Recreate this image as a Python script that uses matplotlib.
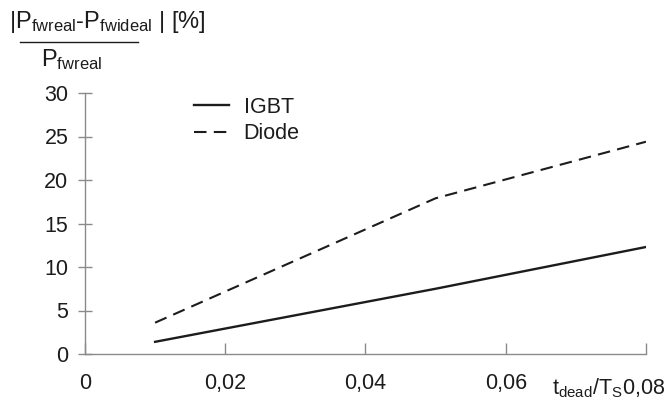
import matplotlib
matplotlib.use('Agg')
import matplotlib.pyplot as plt

plt.rcParams['font.family'] = ['Liberation Sans', 'DejaVu Sans']
plt.rcParams['mathtext.fontset'] = 'custom'
plt.rcParams['mathtext.rm'] = 'Liberation Sans'
plt.rcParams['mathtext.it'] = 'Liberation Sans:italic'

# data
t_ratio = [0.01, 0.05, 0.08]
igbt = [1.4, 7.5, 12.3]
diode = [3.6, 17.9, 24.4]

x_ticks = [0, 0.02, 0.04, 0.06, 0.08]
x_labels = ['0', '0,02', '0,04', '0,06', '']
y_ticks = [0, 5, 10, 15, 20, 25, 30]

ink = '#1c1c1c'
axis_col = '#8a8a8a'
fs = 15.5

fig = plt.figure(figsize=(6.69, 4.0), dpi=100)
ax = fig.add_axes([0.127, 0.115, 0.8386, 0.6525])

ax.plot(t_ratio, igbt, color=ink, lw=1.7, label='IGBT')
ax.plot(t_ratio, diode, color=ink, lw=1.5, ls=(0, (6, 3.5)), label='Diode')

ax.set_xlim(0, 0.08)
ax.set_ylim(0, 30)
for s in ['top', 'right']:
    ax.spines[s].set_visible(False)
for s in ['left', 'bottom']:
    ax.spines[s].set_color(axis_col)
    ax.spines[s].set_linewidth(1.0)

ax.set_yticks(y_ticks)
ax.set_xticks(x_ticks)
ax.set_xticklabels(x_labels)
ax.tick_params(axis='y', direction='inout', length=10, width=1.0, color=axis_col,
               labelsize=fs, labelcolor=ink, pad=7)
ax.tick_params(axis='x', direction='in', length=8, width=1.0, color=axis_col,
               labelsize=fs, labelcolor=ink, pad=14)

# last x label carries the axis name
ax.annotate(r'$\mathrm{t_{dead}/T_S}$0,08', xy=(0.08, 0), xycoords='data',
            xytext=(14, -16), textcoords='offset points', ha='right', va='top',
            fontsize=fs, color=ink, annotation_clip=False)

leg = ax.legend(loc='upper left', bbox_to_anchor=(0.16, 1.06), frameon=False,
                fontsize=fs, handlelength=1.6, handletextpad=0.7, labelspacing=0.25)
for t in leg.get_texts():
    t.set_color(ink)

# y axis title as a fraction
fig.text(0.013, 0.945, r'|P$_{\mathrm{fwreal}}$-P$_{\mathrm{fwideal}}$ | [%]',
         fontsize=17, color=ink, ha='left', va='center')
fig.add_artist(plt.Line2D([0.03, 0.207], [0.895, 0.895], color=ink, lw=1.0))
fig.text(0.062, 0.852, r'P$_{\mathrm{fwreal}}$', fontsize=17, color=ink,
         ha='left', va='center')

fig.savefig('out.png', dpi=100, facecolor='white')
